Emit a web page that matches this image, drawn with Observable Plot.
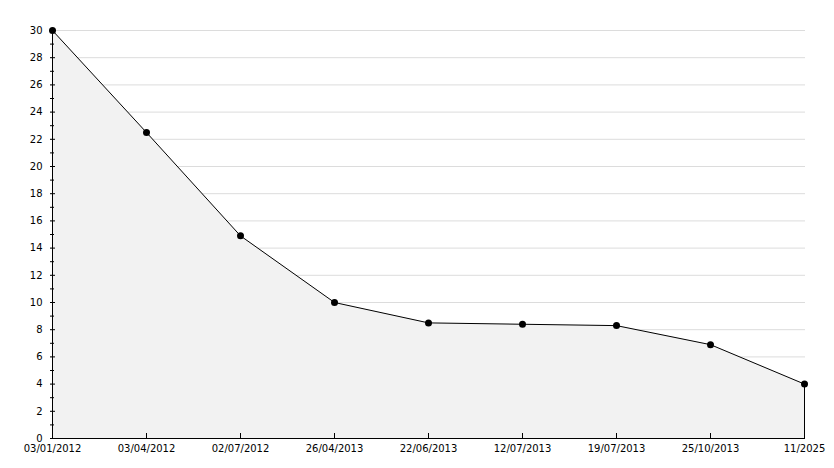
<!DOCTYPE html>
<html>
<head>
<meta charset="utf-8">
<script src="https://cdn.jsdelivr.net/npm/d3@7"></script>
<script src="https://cdn.jsdelivr.net/npm/@observablehq/plot@0.6"></script>
<style>
  html, body { margin: 0; padding: 0; background: #fff; }
  #chart svg { display: block; }
</style>
</head>
<body>
<div id="chart"></div>
<script>
const dates = ["03/01/2012","03/04/2012","02/07/2012","26/04/2013","22/06/2013","12/07/2013","19/07/2013","25/10/2013","11/2025"];
const values = [30, 22.5, 14.9, 10.0, 8.5, 8.4, 8.3, 6.9, 4.0];
const majorTicks = d3.range(0, 31, 2);
const minorTicks = d3.range(1, 30, 2);

const data = dates.map((d, i) => ({date: d, value: values[i]}));

const chart = Plot.plot({
  width: 834,
  height: 468,
  marginLeft: 50,
  marginRight: 29,
  marginTop: 30,
  marginBottom: 30,
  style: {fontFamily: "'DejaVu Sans', Verdana, sans-serif", fontSize: "10px", color: "#000", background: "#fff"},
  x: {type: "point", domain: dates, padding: 0, label: null},
  y: {domain: [0, 30], label: null},
  marks: [
    Plot.gridY(majorTicks.filter(v => v > 0), {stroke: "#dcdcdc", strokeOpacity: 1}),
    Plot.areaY(data, {x: "date", y: "value", fill: "#f2f2f2", curve: "linear"}),
    Plot.ruleX([dates[dates.length - 1]], {y1: 0, y2: values[values.length - 1], stroke: "#000"}),
    Plot.lineY(data, {x: "date", y: "value", stroke: "#000", strokeWidth: 1}),
    Plot.ruleY([0], {stroke: "#000"}),
    Plot.ruleX([dates[0]], {y1: 0, y2: 30, stroke: "#000"}),
    Plot.axisY(majorTicks, {anchor: "left", tickSize: -5, text: null, stroke: "#000", label: null}),
    Plot.axisY(minorTicks, {anchor: "left", tickSize: -4, text: null, stroke: "#000", label: null}),
    Plot.axisY(majorTicks, {anchor: "left", tickSize: 0, tickPadding: 8, fill: "#000", label: null}),
    Plot.axisX({anchor: "bottom", tickSize: -5, text: null, stroke: "#000", label: null}),
    Plot.axisX({anchor: "bottom", tickSize: 0, tickPadding: 6, fill: "#000", label: null}),
    Plot.dot(data, {x: "date", y: "value", r: 3.5, fill: "#000", stroke: "none"})
  ]
});
document.getElementById("chart").appendChild(chart);
</script>
</body>
</html>
